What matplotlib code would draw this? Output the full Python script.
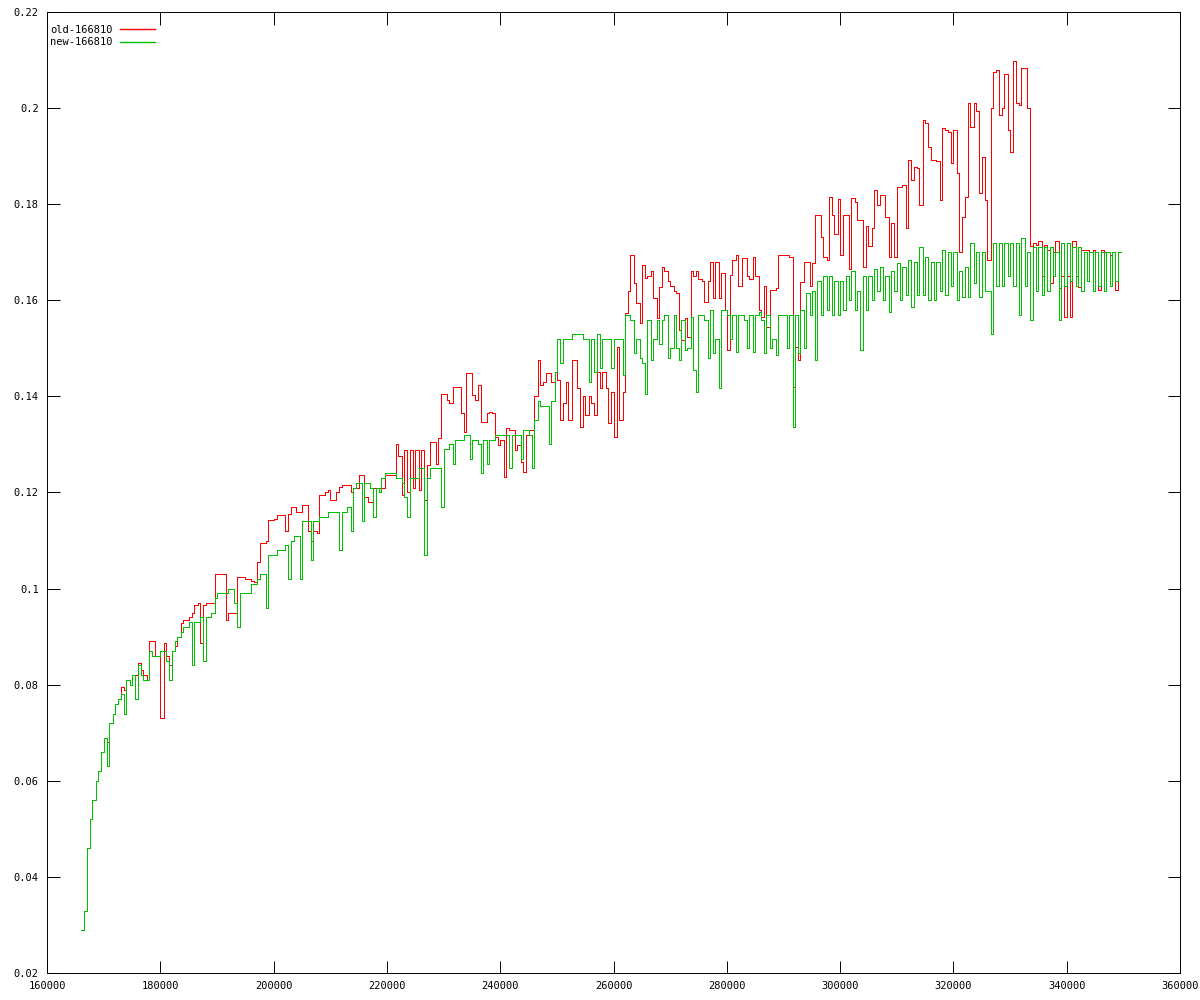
import numpy as np
import matplotlib
matplotlib.use("Agg")
import matplotlib.pyplot as plt

# sample positions (one sample every 1000, two readings per sample)
sample_x = np.arange(166000, 350000, 1000)

# old-166810, values in thousandths: first reading / second reading of each sample
old_a = [29, 46, 56, 62, 69, 72, 76, 79.6, 81, 82,
         84.6, 82, 89, 86, 73, 86, 87, 90, 93.5, 94,
         96.6, 88.6, 97, 97, 103, 103, 95, 95, 102.5, 102,
         101.5, 105.6, 109.5, 114.3, 114.5, 115.3, 112, 117, 116, 117.4,
         112, 112, 119.5, 120, 118.4, 120, 121.6, 121.6, 121, 123.6,
         119, 118, 121, 121, 123.6, 123.6, 127.5, 128.8, 128.8, 128.8,
         128.8, 125.7, 130.6, 131.3, 140.6, 138.6, 142, 136.5, 144.8, 140.3,
         142.4, 134.7, 136.8, 131.6, 131, 133.4, 133, 129.9, 124.3, 133,
         140, 142.4, 144.8, 143, 143.4, 138.6, 135.1, 147.6, 133.7, 136.1,
         138.6, 145.1, 145, 134.4, 131.6, 135.1, 157.3, 169.4, 159.4, 167.3,
         165, 160.4, 162.8, 166, 163, 161.5, 151.7, 152.4, 165, 164.5,
         159.7, 168, 168, 165.6, 149.7, 168.4, 163, 168.7, 164.5, 165,
         156.6, 154.5, 162.1, 169.4, 169.4, 169.1, 150.3, 163.9, 168, 167.7,
         177.8, 169.1, 181.6, 173.9, 169.4, 177.8, 181.2, 176.7, 167, 171.2,
         183, 181.9, 177.4, 176, 183.6, 184, 189.2, 187.8, 179.8, 197,
         189.2, 189, 195.8, 195.1, 195.4, 170, 181.6, 196.1, 199.3, 189.9,
         168.4, 207.6, 198.6, 207.2, 190.9, 201, 208.3, 200, 171.9, 172.3,
         171.5, 163.5, 172.3, 165, 165, 172.3, 162.8, 170.5, 170, 170,
         170.5, 170, 170, 170]
old_b = [33, 52, 60, 66, 68, 74, 77, 79, 80, 82,
         83, 81, 89, 86, 88.7, 84, 88, 92.8, 93.5, 95,
         97, 96.6, 97, 103, 103, 93.5, 95, 102.5, 102.5, 102,
         101.4, 109.4, 110, 114.3, 115.3, 115.3, 115.5, 117, 116, 117.5,
         110, 111.5, 119.5, 120.5, 118.4, 121.2, 121.6, 120, 121, 123.6,
         118, 121, 121, 123.6, 123.6, 130, 119.5, 120, 121, 120.5,
         118.4, 130.6, 126, 140.6, 139.3, 142, 142, 132.6, 144.8, 139.3,
         134.7, 136.5, 136.5, 129.9, 123.3, 133, 128.8, 126.4, 132, 133,
         147.6, 143.1, 144.8, 145.1, 135.1, 143, 147.6, 141.7, 140, 140,
         136.1, 141.7, 141.7, 141, 150.3, 141, 162, 163.7, 155.2, 164.6,
         166, 156.3, 167, 164, 162, 153.8, 156.3, 166, 166, 164,
         164, 160.4, 160.4, 158, 165.3, 169.4, 168.7, 165, 169, 158,
         163, 162.1, 162.5, 169.4, 169.4, 142, 147.6, 168, 163, 177.8,
         173.2, 168.4, 177.8, 181, 177.8, 166.6, 180.5, 176.8, 175.5, 175,
         179.8, 181.9, 169.1, 169.1, 183.6, 175, 185, 187.5, 197.5, 192,
         189.2, 180.9, 195.5, 188.5, 186.4, 177.4, 201, 201, 182.3, 180.9,
         200, 207.9, 200, 195.4, 209.7, 200.6, 208.3, 171.2, 171.5, 165,
         170.5, 170, 162.5, 156.6, 156.6, 165, 170.5, 170.5, 170.5, 162.1,
         170, 169.5, 162.1, 170]

# new-166810, values in thousandths
new_a = [29, 46, 56, 62, 69, 72, 76, 78, 81, 82,
         84, 81, 87, 86, 87, 85, 87, 90, 92, 93,
         93, 94, 94, 95, 99, 99, 100, 97, 99, 99,
         101, 102, 103, 107, 107, 108, 109, 110, 111, 114,
         114, 114, 115, 115, 116, 116, 116, 117, 121, 122,
         122, 121, 121, 123, 124, 124, 123, 119, 123, 123,
         125, 123, 125, 125, 129, 130, 131, 131, 132, 131,
         130, 131, 131, 132, 132, 132, 132, 132, 133, 132,
         135, 138, 138, 139, 152, 152, 152, 153, 153, 152,
         152, 153, 152, 152, 152, 152, 157, 156, 152, 147,
         156, 152, 151, 157, 150, 150, 156, 150, 145.5, 157,
         156, 158, 152, 158, 157, 157, 157, 156, 157, 157,
         156, 157, 152, 157, 157, 157, 157, 158, 161.5, 162,
         164, 165, 165, 164, 164, 165, 166, 162, 165, 165,
         166.6, 167, 165, 166, 167.7, 167, 168.4, 168, 171, 169,
         168, 168, 170.5, 170, 170, 166, 167, 172, 170, 170,
         162, 172, 172, 172, 172, 172, 173, 170, 171, 171,
         171, 171, 170, 172, 172, 171, 171, 170, 170, 170,
         170, 170, 170, 170]
new_b = [33, 52, 60, 66, 63, 74, 77, 74, 80, 77,
         82, 81, 86, 86, 87, 81, 89, 91, 92, 84,
         93, 85, 94, 98, 99, 99, 100, 92, 99, 99,
         101, 103, 96, 107, 108, 108, 102, 111, 102, 114,
         106, 114, 115, 116, 116, 108, 116, 112, 122, 114,
         122, 115, 120, 124, 124, 123, 122, 115, 123, 125,
         107, 125, 125, 117, 129, 126, 131, 132, 127, 131,
         124, 126, 131, 132, 132, 125, 132, 127, 133, 125,
         139, 138, 130, 145, 147, 152, 153, 153, 152, 143,
         145, 146, 152, 146, 152, 144.5, 157, 149, 148, 140.6,
         147.6, 156, 156, 148, 157, 147.6, 149.7, 156.6, 141, 157,
         148, 149, 141.7, 158, 152, 149.3, 157, 150, 149.3, 157.6,
         149, 150, 148.6, 157, 150, 133.7, 149, 150, 157, 147.6,
         157, 158, 157, 157, 158, 160, 158, 149.7, 158, 160,
         162, 160, 157.6, 162, 160, 161, 158.7, 161, 161, 160,
         160, 162, 161, 163, 160, 160.7, 160.7, 163.5, 160.7, 162,
         153, 163, 163, 165, 163, 157, 163, 156, 162, 161,
         162, 165, 156, 163, 164, 163, 162, 164, 162, 163,
         162, 163, 164, 170]

x_ticks = [160000, 180000, 200000, 220000, 240000, 260000,
           280000, 300000, 320000, 340000, 360000]
y_ticks = [0.02, 0.04, 0.06, 0.08, 0.1, 0.12, 0.14, 0.16, 0.18, 0.2, 0.22]
y_labels = ['0.02', '0.04', '0.06', '0.08', '0.1', '0.12',
            '0.14', '0.16', '0.18', '0.2', '0.22']


def step_path(a, b):
    # each sample: first reading, then second reading a bit later
    xs = np.column_stack([sample_x, sample_x + 600]).ravel()
    ys = np.column_stack([a, b]).ravel() / 1000.0
    return xs, ys


plt.rcParams['font.family'] = 'DejaVu Sans Mono'
fig = plt.figure(figsize=(12, 10), dpi=100)
ax = fig.add_axes([47 / 1200, 27 / 1000, 1133 / 1200, 961 / 1000])

xo, yo = step_path(old_a, old_b)
xn, yn = step_path(new_a, new_b)
ax.plot(xo, yo, color='#ff0000', lw=0.6, drawstyle='steps-post',
        antialiased=False, label='old-166810')
ax.plot(xn, yn, color='#00c000', lw=0.6, drawstyle='steps-post',
        antialiased=False, label='new-166810')

ax.set_xlim(160000, 360000)
ax.set_ylim(0.02, 0.22)
ax.set_xticks(x_ticks)
ax.set_xticklabels([str(t) for t in x_ticks])
ax.set_yticks(y_ticks)
ax.set_yticklabels(y_labels)
ax.tick_params(direction='in', top=True, right=True, length=9, width=0.7,
               labelsize=7.5, pad=6)
for s in ax.spines.values():
    s.set_linewidth(0.7)

leg = ax.legend(loc='upper left', bbox_to_anchor=(0.0, 0.99), markerfirst=False,
                frameon=False, fontsize=7.5, handlelength=3.4, handletextpad=0.7,
                labelspacing=0.25, borderaxespad=0, borderpad=0.3)
for line in leg.get_lines():
    line.set_linewidth(1.0)

fig.savefig('out.png', dpi=100)
